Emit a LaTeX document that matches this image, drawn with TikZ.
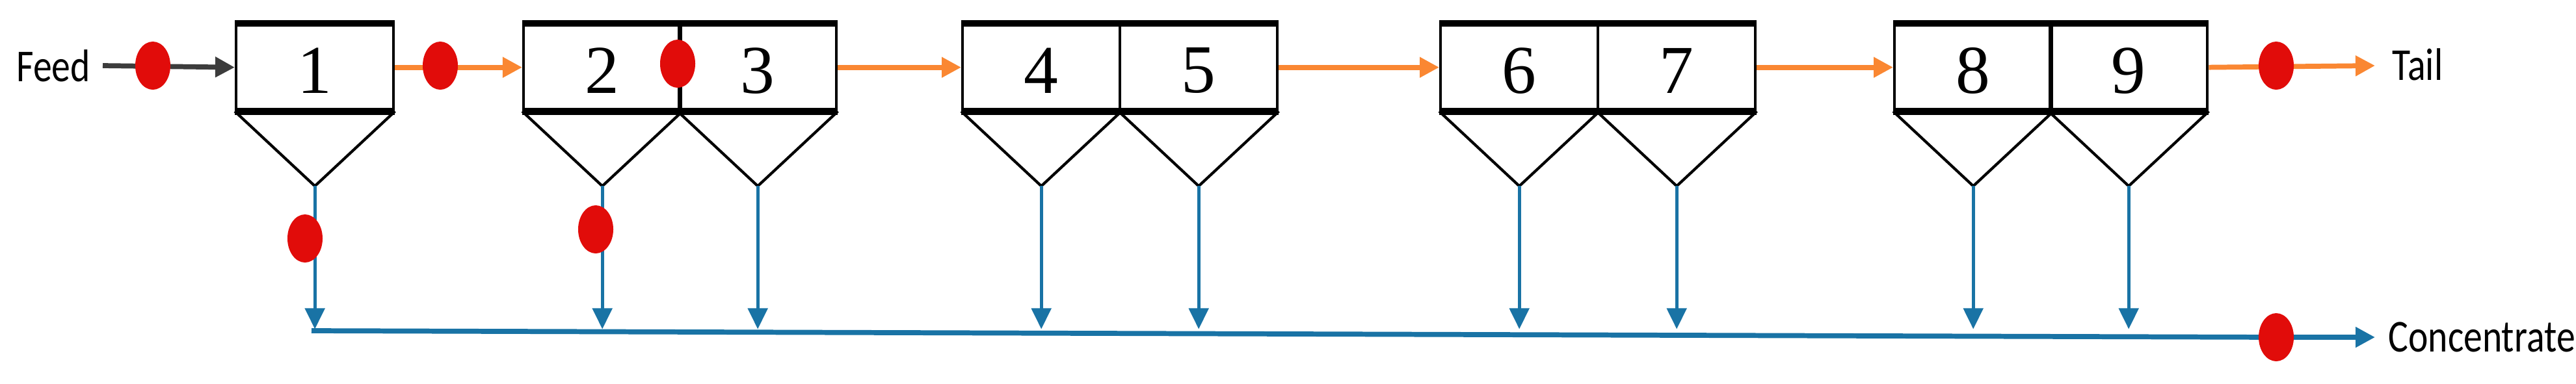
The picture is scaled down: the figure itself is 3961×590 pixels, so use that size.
\documentclass[tikz,border=0pt]{standalone}
\usepackage{fontspec}
\setmainfont{Liberation Serif}
\newfontfamily\lbl{Carlito}
\usetikzlibrary{arrows.meta,shapes.geometric}
\definecolor{org}{RGB}{250,135,50}
\definecolor{blu}{RGB}{25,115,165}
\definecolor{dotred}{RGB}{225,12,10}
\definecolor{gry}{RGB}{60,60,60}
\begin{document}
\begin{tikzpicture}[x=0.01cm,y=-0.01cm,
  cell/.style={draw=black,line width=1.2pt,minimum width=2.42cm,minimum height=1.31cm,inner sep=0,anchor=north west},
  dot/.style={fill=dotred,ellipse,minimum width=0.54cm,minimum height=0.74cm,inner sep=0},
  lab/.style={font=\lbl\fontsize{20}{20}\selectfont,anchor=west,inner sep=0,xscale=0.82},
  oar/.style={draw=org,line width=2.2pt,-{Triangle[length=0.3cm,width=0.3cm]}},
  bar/.style={draw=blu,line width=1.4pt,-{Triangle[length=0.32cm,width=0.3cm]}},
]
\useasboundingbox (0,0) rectangle (3961,590);
% cells
\foreach \n/\x in {1/361,2/803,3/1042,4/1478,5/1720,6/2213,7/2455,8/2911,9/3150}{
  \node[cell] (c\n) at (\x,36) {};
  \node at ([yshift=-0.05cm]c\n.center) {\fontsize{30}{30}\selectfont\n};
  \draw[line width=3pt] (c\n.north west) -- (c\n.north east);
  \draw[line width=3pt] (c\n.south west) -- (c\n.south east);
  \coordinate (a\n) at ([yshift=-1.15cm]c\n.south);
  \draw[line width=1.2pt] (c\n.south west) -- (a\n) -- (c\n.south east);
  \coordinate (t\n) at ([yshift=-2.2cm]a\n);
}
\node[lab] (feed) at (25,101) {Feed};
\node[lab] (tail) at (3678,99) {Tail};
\node[lab] (conc) at (3672,519) {Concentrate};
\coordinate (fs) at (158,101);
\coordinate (te) at (3652,101);
\coordinate (cs) at (479,509);
\coordinate (cm) at (3500,519);
\coordinate (ce) at (3652,519);
% top flow
\draw[draw=gry,line width=2.2pt,-{Triangle[length=0.3cm,width=0.3cm]}] (fs) -- (c1.west);
\draw[oar] (c1.east) -- (c2.west);
\draw[oar] (c3.east) -- (c4.west);
\draw[oar] (c5.east) -- (c6.west);
\draw[oar] (c7.east) -- (c8.west);
\draw[oar] (c9.east) -- (te);
% concentrate
\foreach \n in {1,2,3,4,5,6,7,8,9}{\draw[bar] (a\n) -- (t\n);}
\draw[blu,line width=2.2pt] (cs) -- (cm);
\draw[blu,line width=2.2pt,-{Triangle[length=0.3cm,width=0.3cm]}] (cm) -- (ce);
% dots
\node[dot] (d1) at (235,101) {};
\node[dot] (d2) at (677,101) {};
\node[dot] (d3) at (1042,98) {};
\node[dot] (d4) at (3500,101) {};
\node[dot] (d5) at (469,367) {};
\node[dot] (d6) at (916,353) {};
\node[dot] (d7) at (cm) {};
\end{tikzpicture}
\end{document}
